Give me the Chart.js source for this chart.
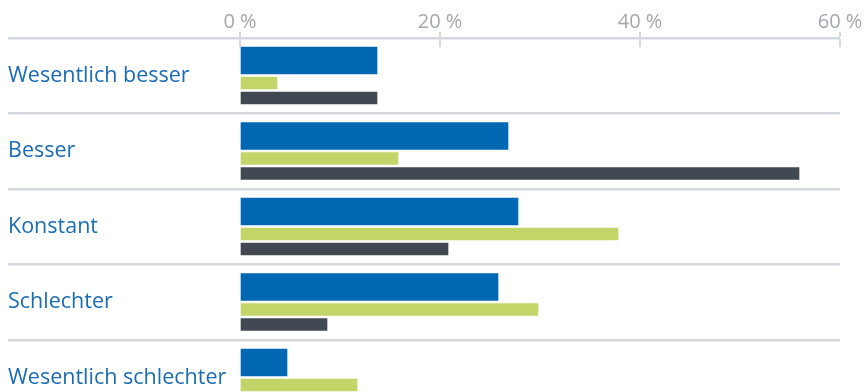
<!DOCTYPE html>
<html><head><meta charset="utf-8">
<script src="https://cdn.jsdelivr.net/npm/chart.js@4/dist/chart.umd.min.js"></script>
<style>
html,body{margin:0;padding:0;overflow:hidden;background:#fff;width:865px;height:392px}
#wrap{position:relative;width:865px;height:420px}
</style></head>
<body><div id="wrap"><canvas id="c"></canvas></div>
<script>
const categories = ['Wesentlich besser', 'Besser', 'Konstant', 'Schlechter', 'Wesentlich schlechter'];
const seriesBlue  = [13.7, 26.8, 27.8, 25.8, 4.7];
const seriesGreen = [3.7, 15.8, 37.8, 29.8, 11.7];
const seriesDark  = [13.7, 55.9, 20.8, 8.7, 0];
const xTickValues = [0, 20, 40, 60];

const lineColor = '#d5d8df';
const fontFamily = "'Open Sans', 'DejaVu Sans', sans-serif";

new Chart(document.getElementById('c'), {
  type: 'bar',
  data: {
    labels: categories,
    datasets: [
      { label: '', data: [], barThickness: 30.5 },
      { label: 'A', data: seriesBlue,  backgroundColor: '#0068b3', barThickness: 30.5, maxBarThickness: 27 },
      { label: 'B', data: seriesGreen, backgroundColor: '#c2d569', barThickness: 14.5, maxBarThickness: 12 },
      { label: 'C', data: seriesDark,  backgroundColor: '#414852', barThickness: 14.83, maxBarThickness: 12 }
    ]
  },
  options: {
    indexAxis: 'y',
    responsive: true,
    maintainAspectRatio: false,
    animation: false,
    layout: { padding: { left: 8, right: 25, top: 0, bottom: 4.5 } },
    plugins: { legend: { display: false }, tooltip: { enabled: false } },
    scales: {
      x: {
        position: 'top',
        min: 0, max: 60,
        afterBuildTicks: s => { s.ticks = xTickValues.map(v => ({ value: v })); },
        ticks: {
          callback: v => v + ' %',
          color: '#a3a7ae',
          font: { family: fontFamily, size: 20 },
          padding: -2,
          maxRotation: 0
        },
        grid: { color: lineColor, lineWidth: 2, tickLength: 6, tickWidth: 2, tickColor: lineColor, borderDash: [8, 1000] },
        border: { display: true, color: 'rgba(0,0,0,0)', width: 2, dash: [8, 1000] },
        afterFit: s => { s.height = 38; s.paddingLeft = 0; s.paddingRight = 0; }
      },
      y: {
        grid: { offset: true, color: lineColor, lineWidth: 2.5, tickLength: 232, tickWidth: 2.5, tickColor: lineColor },
        border: { display: false },
        ticks: {
          crossAlign: 'far',
          color: '#1a6db3',
          font: { family: fontFamily, size: 21.5 },
          padding: 0
        },
        afterFit: s => { s.width = 232; s.paddingTop = 0; s.paddingBottom = 0; }
      }
    }
  }
});
</script>
</body></html>
